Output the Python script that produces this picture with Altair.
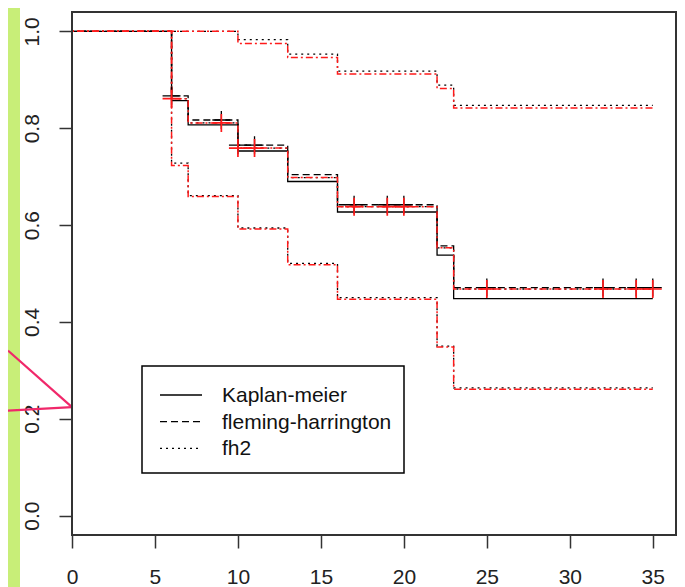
import altair as alt
import pandas as pd

# ---- data ----
step_times = [0, 6, 7, 10, 13, 16, 22, 23]
end_time = 35
km = [1.0, 0.857, 0.807, 0.753, 0.690, 0.627, 0.538, 0.448]
fh = [1.0, 0.867, 0.817, 0.765, 0.704, 0.642, 0.557, 0.471]
fh2 = [1.0, 0.861, 0.811, 0.759, 0.698, 0.638, 0.553, 0.468]
upper_black = [1.0, 1.0, 1.0, 0.983, 0.953, 0.918, 0.889, 0.847]
lower_black = [1.0, 0.728, 0.661, 0.594, 0.521, 0.450, 0.350, 0.264]
upper_red = [1.0, 1.0, 1.0, 0.975, 0.946, 0.912, 0.882, 0.842]
lower_red = [1.0, 0.723, 0.659, 0.592, 0.518, 0.447, 0.348, 0.261]
censor_times = [6, 9, 10, 11, 17, 19, 20, 25, 32, 34, 35]
legend_labels = ["Kaplan-meier", "fleming-harrington", "fh2"]
x_ticks = [0, 5, 10, 15, 20, 25, 30, 35]
y_ticks = [0.0, 0.2, 0.4, 0.6, 0.8, 1.0]
# screenshot annotation strokes (pink), in data units
arrow_id = ["a", "a", "b", "b"]
arrow_x = [-3.86, 0.0, -3.86, 0.0]
arrow_y = [0.341, 0.224, 0.217, 0.224]


def steps(name, vals):
    rows = [{"series": name, "t": t, "s": v} for t, v in zip(step_times, vals)]
    rows.append({"series": name, "t": end_time, "s": vals[-1]})
    return rows


def value_at(vals, t):
    v = vals[0]
    for st, sv in zip(step_times, vals):
        if st <= t:
            v = sv
    return v


FONT = "Liberation Sans"

x_enc = alt.X("t:Q", scale=alt.Scale(domain=[0, 36.4], nice=False, zero=False),
              axis=alt.Axis(values=x_ticks, title=None, grid=False, domain=False,
                            tickSize=13, tickColor="#333", tickWidth=1.5,
                            labelFontSize=21, labelFont=FONT, labelColor="#222",
                            labelPadding=18, labelBaseline="top", labelFlush=False,
                            labelOverlap=False, format="d"))
y_enc = alt.Y("s:Q", scale=alt.Scale(domain=[-0.04, 1.04], nice=False, zero=False),
              axis=alt.Axis(values=y_ticks, title=None, grid=False, domain=False,
                            tickSize=13, tickColor="#333", tickWidth=1.5,
                            labelFontSize=21, labelFont=FONT, labelColor="#222",
                            labelAngle=270, labelAlign="center",
                            labelBaseline="alphabetic", labelPadding=21,
                            labelFlush=False, labelOverlap=False, format=".1f"))

df_km = pd.DataFrame(steps("km", km))
df_fh = pd.DataFrame(steps("fh", fh))
df_dot = pd.DataFrame(steps("fh2", fh2) + steps("ub", upper_black) + steps("lb", lower_black))
df_red = pd.DataFrame(steps("fh2r", fh2) + steps("ur", upper_red) + steps("lr", lower_red))

black_w = 1.3
red_w = 1.5
DASH = [7, 4]
DOT = [2, 4]
DASHDOT = [2, 3, 7, 3]

one = pd.DataFrame({"k": [0]})

strip = alt.Chart(one).mark_rect(color="#c8ee78").encode(
    x=alt.value(-64), x2=alt.value(-52), y=alt.value(-4), y2=alt.value(575))

frame = alt.Chart(one).mark_rect(fill=None, stroke="#333333", strokeWidth=2).encode(
    x=alt.value(0), x2=alt.value(604), y=alt.value(0), y2=alt.value(523))

l_km = alt.Chart(df_km).mark_line(interpolate="step-after", color="black", strokeWidth=black_w).encode(
    x=x_enc, y=y_enc, detail="series:N")
l_fh = alt.Chart(df_fh).mark_line(interpolate="step-after", color="black", strokeWidth=black_w,
                                  strokeDash=DASH).encode(x=x_enc, y=y_enc, detail="series:N")
l_dot = alt.Chart(df_dot).mark_line(interpolate="step-after", color="black", strokeWidth=black_w,
                                    strokeDash=DOT).encode(x=x_enc, y=y_enc, detail="series:N")
l_red = alt.Chart(df_red).mark_line(interpolate="step-after", color="#ff1a1a", strokeWidth=red_w,
                                    strokeDash=DASHDOT).encode(x=x_enc, y=y_enc, detail="series:N")

PLUS = "M-1,0L1,0M0,-1L0,1"
df_cb = pd.DataFrame({"t": censor_times, "s": [value_at(fh, t) for t in censor_times]})
df_cr = pd.DataFrame({"t": censor_times, "s": [value_at(fh2, t) for t in censor_times]})
c_black = alt.Chart(df_cb).mark_point(shape=PLUS, size=324, filled=False, stroke="black",
                                      strokeWidth=1.3, opacity=1).encode(x=x_enc, y=y_enc)
c_red = alt.Chart(df_cr).mark_point(shape=PLUS, size=324, filled=False, stroke="#ff1a1a",
                                    strokeWidth=1.7, opacity=1).encode(x=x_enc, y=y_enc)

df_arrow = pd.DataFrame({"id": arrow_id, "t": arrow_x, "s": arrow_y})
arrows = alt.Chart(df_arrow).mark_line(color="#f0286a", strokeWidth=2.2, clip=False).encode(
    x=alt.X("t:Q"), y=alt.Y("s:Q"), detail="id:N")

leg_box = alt.Chart(one).mark_rect(fill="white", stroke="black", strokeWidth=1.5).encode(
    x=alt.value(70), x2=alt.value(332), y=alt.value(354), y2=alt.value(461))
leg_layers = [leg_box]
dashes = [None, DASH, DOT]
for i, lab in enumerate(legend_labels):
    yy = 383 + 26.67 * i
    kw = {"color": "black", "strokeWidth": black_w}
    if dashes[i] is not None:
        kw["strokeDash"] = dashes[i]
    leg_layers.append(alt.Chart(one).mark_rule(**kw).encode(
        x=alt.value(88), x2=alt.value(130), y=alt.value(yy)))
    leg_layers.append(alt.Chart(pd.DataFrame({"label": [lab]})).mark_text(
        align="left", baseline="alphabetic", font=FONT, fontSize=21, color="#111").encode(
        text="label:N", x=alt.value(150), y=alt.value(yy + 7)))

chart = alt.layer(strip, l_km, l_fh, l_dot, l_red, c_black, c_red, arrows, *leg_layers, frame).properties(
    width=604, height=523,
    autosize=alt.AutoSizeParams(type="none"),
    padding={"left": 64, "top": 4, "right": 1, "bottom": 52},
).configure_view(stroke=None).configure(font=FONT)

chart.save("out.html", embed_options={"renderer": "svg", "actions": False})
